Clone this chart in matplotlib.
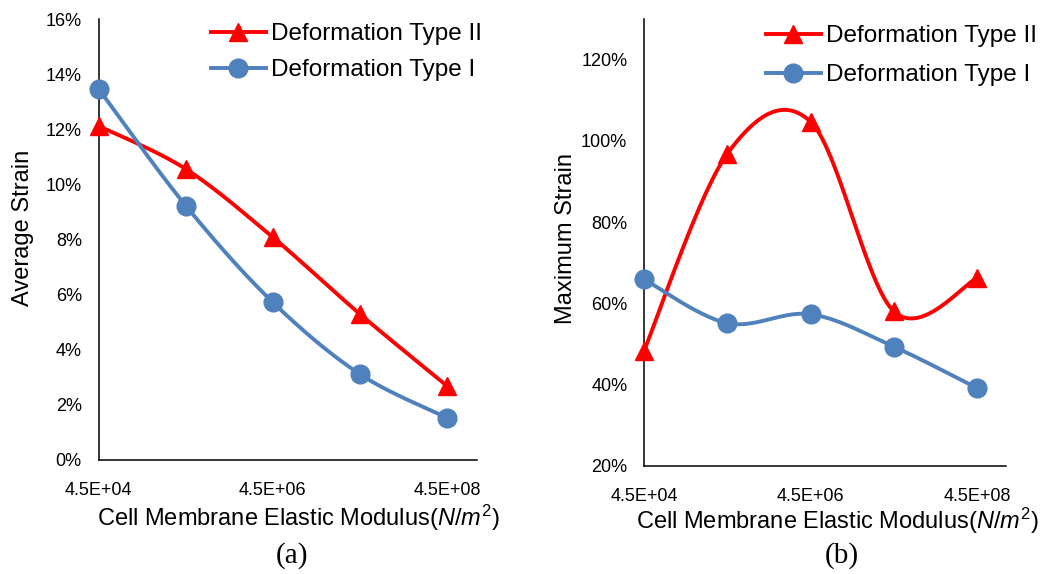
import numpy as np
import matplotlib
matplotlib.use("Agg")
import matplotlib.pyplot as plt
from matplotlib.lines import Line2D
from matplotlib.ticker import FixedLocator, NullLocator

plt.rcParams['font.family'] = ['Liberation Sans', 'DejaVu Sans']
plt.rcParams['mathtext.fontset'] = 'custom'
plt.rcParams['mathtext.rm'] = 'Liberation Sans'
plt.rcParams['mathtext.it'] = 'Liberation Sans:italic'

# Elastic modulus of the cell membrane (N/m^2)
modulus = [4.5e4, 4.5e5, 4.5e6, 4.5e7, 4.5e8]
tick_values = [4.5e4, 4.5e6, 4.5e8]
tick_labels = ['4.5E+04', '4.5E+06', '4.5E+08']

# (a) average strain, %
avg_type2 = [12.12, 10.56, 8.08, 5.29, 2.68]
avg_type1 = [13.47, 9.23, 5.72, 3.11, 1.53]

# (b) maximum strain, %
max_type2 = [48.3, 96.8, 104.7, 58.0, 66.2]
max_type1 = [65.9, 55.1, 57.3, 49.3, 39.1]

RED = '#FF0000'
BLUE = '#4F81BD'
W, H = 1042, 574


def smooth(xs, ys, n=60):
    """Catmull-Rom style Bezier smoothing in (log10 x, y) space."""
    u = np.log10(np.asarray(xs, float))
    v = np.asarray(ys, float)
    P = np.column_stack([u, v])
    out = []
    for i in range(len(P) - 1):
        p0 = P[i - 1] if i > 0 else P[i]
        p1, p2 = P[i], P[i + 1]
        p3 = P[i + 2] if i + 2 < len(P) else P[i + 1]
        c1 = p1 + (p2 - p0) / 6.0
        c2 = p2 - (p3 - p1) / 6.0
        t = np.linspace(0, 1, n)[:, None]
        seg = ((1 - t) ** 3) * p1 + 3 * ((1 - t) ** 2) * t * c1 \
            + 3 * (1 - t) * t ** 2 * c2 + t ** 3 * p2
        out.append(seg if i == 0 else seg[1:])
    seg = np.vstack(out)
    return 10 ** seg[:, 0], seg[:, 1]


def px_rect(left, top, right, bottom):
    return [left / W, 1 - bottom / H, (right - left) / W, (bottom - top) / H]


fig = plt.figure(figsize=(W / 100, H / 100), dpi=100)


def panel(rect, s2, s1, ylim, yticks, ylabel, ylabel_xy, xlabel_xy, tag_xy, tag,
          leg_xy, leg_space):
    ax = fig.add_axes(rect)
    ax.set_xscale('log')
    ax.set_xlim(4.5e4, 1e9)
    ax.set_ylim(*ylim)
    for x_, y_, c, m, ms in [(modulus, s2, RED, '^', 13), (modulus, s1, BLUE, 'o', 13.5)]:
        sx, sy = smooth(x_, y_)
        ax.plot(sx, sy, color=c, lw=2.8, zorder=3, clip_on=False,
                solid_capstyle='round')
        ax.plot(x_, y_, linestyle='none', marker=m, ms=ms, color=c,
                zorder=4, clip_on=False)
    ax.xaxis.set_major_locator(FixedLocator(tick_values))
    ax.xaxis.set_minor_locator(NullLocator())
    ax.set_xticklabels(tick_labels)
    ax.set_yticks(yticks)
    ax.set_yticklabels([f'{int(round(t))}%' for t in yticks])
    ax.tick_params(axis='both', length=0, labelsize=13)
    ax.tick_params(axis='x', pad=16)
    ax.tick_params(axis='y', pad=12)
    for s in ('top', 'right'):
        ax.spines[s].set_visible(False)
    for s in ('left', 'bottom'):
        ax.spines[s].set_linewidth(1.1)
        ax.spines[s].set_color('black')
    fig.text(ylabel_xy[0] / W, 1 - ylabel_xy[1] / H, ylabel, rotation=90,
             ha='center', va='center', fontsize=17)
    fig.text(xlabel_xy[0] / W, 1 - xlabel_xy[1] / H,
             r'Cell Membrane Elastic Modulus($\mathit{N/m}^{\mathrm{2}}$)',
             ha='center', va='center', fontsize=17)
    fig.text(tag_xy[0] / W, 1 - tag_xy[1] / H, tag, ha='center', va='center',
             fontsize=21, family='Liberation Serif')
    handles = [
        Line2D([], [], color=RED, lw=2.8, marker='^', ms=13),
        Line2D([], [], color=BLUE, lw=2.8, marker='o', ms=13.5),
    ]
    fig.legend(handles, ['Deformation Type II', 'Deformation Type I'],
               loc='upper left', bbox_to_anchor=(leg_xy[0] / W, 1 - leg_xy[1] / H),
               frameon=False, fontsize=17.5, handlelength=2.25, handletextpad=0.2,
               labelspacing=leg_space, borderpad=0, borderaxespad=0, numpoints=1)
    return ax


panel(px_rect(98.5, 19, 477.5, 460), avg_type2, avg_type1, (0, 16),
      list(range(0, 17, 2)), 'Average Strain', (23, 228), (298, 518),
      (292, 556), '(a)', (211, 23), 0.58)

panel(px_rect(644, 19, 1006, 465.7), max_type2, max_type1, (20, 130),
      list(range(20, 121, 20)), 'Maximum Strain', (566, 239), (837, 521),
      (842, 556), '(b)', (766, 25), 0.7)

fig.savefig('out.png', dpi=100)
